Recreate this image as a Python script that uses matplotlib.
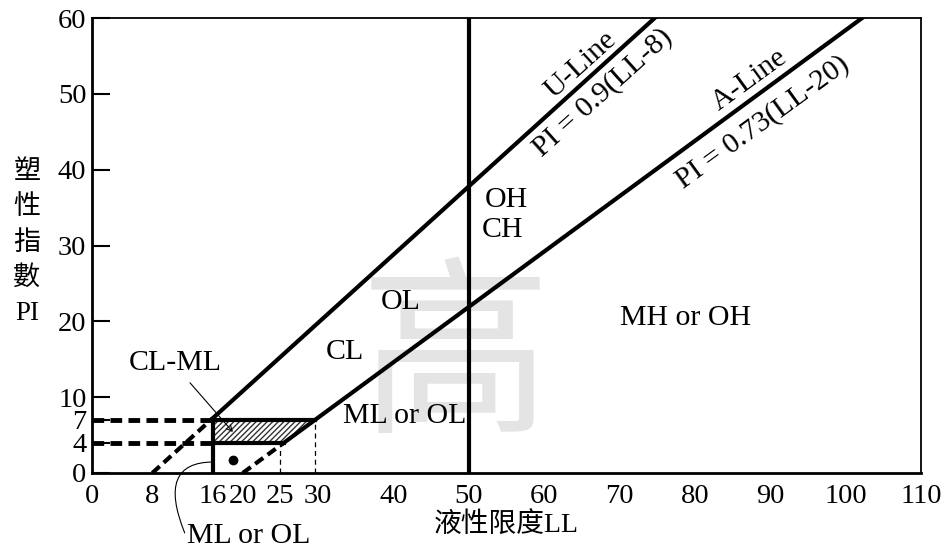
import numpy as np
import matplotlib.pyplot as plt
from matplotlib.patches import Polygon

plt.rcParams['font.family'] = ['Liberation Serif', 'Noto Sans CJK TC']
plt.rcParams['hatch.linewidth'] = 1.0

# plasticity chart data
x_ticks = [0, 8, 16, 20, 25, 30, 40, 50, 60, 70, 80, 90, 100, 110]
y_ticks = [0, 4, 7, 10, 20, 30, 40, 50, 60]
u_line = (0.9, 8)     # PI = 0.9(LL-8)
a_line = (0.73, 20)   # PI = 0.73(LL-20)
ll_limit = 50
pi_low, pi_high = 4, 7
ll_min = 16
dot_pt = (18.7, 1.7)
ylabel_chars = ['塑', '性', '指', '數', 'PI']

u_start = ll_min
u_end = u_line[1] + 60 / u_line[0]
a_start = a_line[1] + pi_high / a_line[0]
a_low = a_line[1] + pi_low / a_line[0]
a_end = a_line[1] + 60 / a_line[0]

fig = plt.figure(figsize=(9.46, 5.53), dpi=100)
ax = fig.add_axes([92 / 946, 1 - 473 / 553, 829 / 946, 455 / 553])
ax.set_xlim(0, 110)
ax.set_ylim(0, 60)

# watermark
ax.text(48.2, 14.5, '高', fontsize=138, color='#e4e4e4', ha='center', va='center',
        family='Noto Sans CJK TC', zorder=0)

lw = 3
dash = (2.4, 1.3)
# U-line and A-line
ax.plot([u_start, u_end], [u_line[0] * (u_start - u_line[1]), 60], 'k-', lw=lw)
ax.plot([u_line[1], u_start], [0, u_line[0] * (u_start - u_line[1])], 'k--', lw=lw, dashes=dash)
ax.plot([a_low, a_end], [pi_low, 60], 'k-', lw=lw)
ax.plot([a_line[1], a_low], [0, pi_low], 'k--', lw=lw, dashes=dash)
ax.plot([ll_limit, ll_limit], [0, 60], 'k-', lw=lw)

# CL-ML zone
zone = Polygon([[ll_min, pi_low], [ll_min, pi_high], [a_start, pi_high], [a_low, pi_low]],
               closed=True, facecolor='white', edgecolor='#333333', hatch='//////', lw=0)
ax.add_patch(zone)
ax.plot([ll_min, a_start], [pi_high, pi_high], 'k-', lw=lw)
ax.plot([ll_min, a_low], [pi_low, pi_low], 'k-', lw=lw)
ax.plot([ll_min, ll_min], [0, pi_high], 'k-', lw=lw)
ax.plot([0, ll_min], [pi_high, pi_high], 'k--', lw=3.5, dashes=dash)
ax.plot([0, ll_min], [pi_low, pi_low], 'k--', lw=3.5, dashes=dash)
ax.plot([25, 25], [0, pi_low], 'k--', lw=0.9, dashes=(4, 3))
ax.plot([a_start, a_start], [0, pi_high], 'k--', lw=0.9, dashes=(4, 3))
ax.plot(*dot_pt, 'ko', ms=6)

fs = 21.5
ax.text(64.8, 53.8, 'U-Line', fontsize=fs, rotation=42, ha='center', va='center')
ax.text(67.8, 50.1, 'PI = 0.9(LL-8)', fontsize=fs, rotation=42, ha='center', va='center')
ax.text(87.3, 51.8, 'A-Line', fontsize=fs, rotation=36, ha='center', va='center')
ax.text(89.0, 46.3, 'PI = 0.73(LL-20)', fontsize=fs, rotation=36, ha='center', va='center')
ax.text(55, 36, 'OH', fontsize=fs, ha='center', va='center')
ax.text(54.5, 32, 'CH', fontsize=fs, ha='center', va='center')
ax.text(41, 22.5, 'OL', fontsize=fs, ha='center', va='center')
ax.text(33.5, 16, 'CL', fontsize=fs, ha='center', va='center')
ax.text(41.5, 7.5, 'ML or OL', fontsize=fs, ha='center', va='center')
ax.text(78.8, 20.5, 'MH or OH', fontsize=fs, ha='center', va='center')
ax.text(11, 14.5, 'CL-ML', fontsize=fs, ha='center', va='center')
ax.annotate('', xy=(18.7, 5.4), xytext=(13.0, 11.9),
            arrowprops=dict(arrowstyle='->', lw=0.8, color='k', shrinkA=0, shrinkB=0))
ax.text(20.8, -8.3, 'ML or OL', fontsize=fs, ha='center', va='center', clip_on=False)
ax.annotate('', xy=(16.1, 1.45), xytext=(12.3, -7.9), annotation_clip=False,
            arrowprops=dict(arrowstyle='-', lw=0.8, color='k', shrinkA=0, shrinkB=0,
                            connectionstyle='angle3,angleA=112,angleB=0'))

ax.set_xticks(x_ticks)
ax.set_yticks(y_ticks)
ax.tick_params(axis='x', length=0, labelsize=20.5, pad=8)
ax.tick_params(axis='y', direction='in', length=13, width=1.5, labelsize=20.5, pad=4)
for s in ['left', 'bottom']:
    ax.spines[s].set_linewidth(2)
for s in ['top', 'right']:
    ax.spines[s].set_linewidth(1.3)

ax.set_xlabel('液性限度LL', fontsize=20, labelpad=3)
for i, ch in enumerate(ylabel_chars):
    fig.text(27 / 946, 1 - (173 + 35 * i) / 553, ch, fontsize=19.5, ha='center', va='center')

fig.savefig('out.png', dpi=100)
